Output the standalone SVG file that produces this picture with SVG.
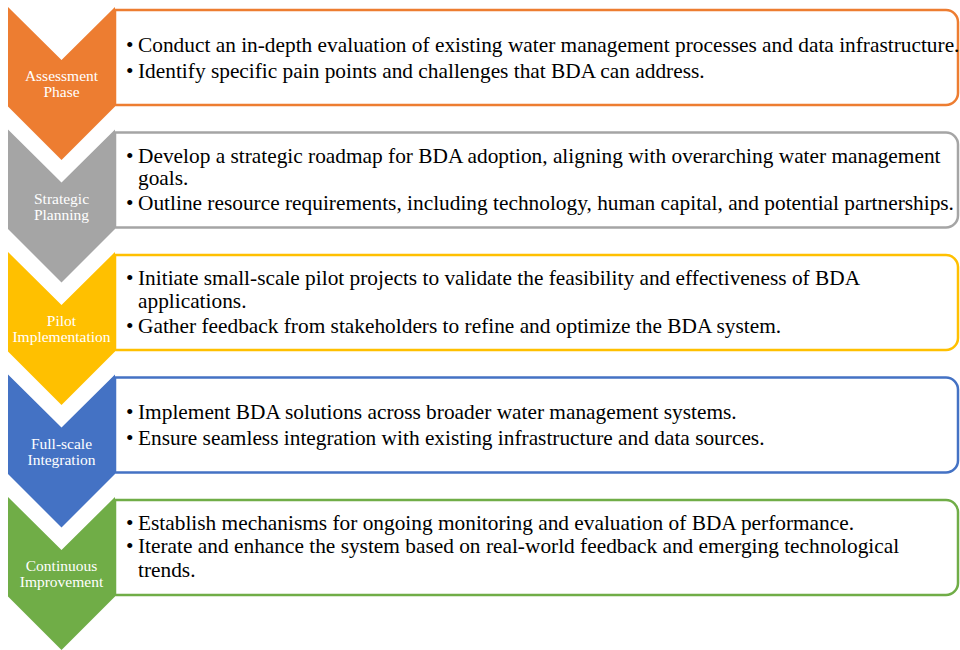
<svg xmlns="http://www.w3.org/2000/svg" width="960" height="650" viewBox="0 0 960 650">
  <style>
    .chev text { font-family: "Liberation Serif", "Times New Roman", serif; font-size: 15.5px; fill: #ffffff; text-anchor: middle; }
    .box path { fill: #ffffff; stroke-width: 2.5; }
    .box text { font-family: "Liberation Serif", "Times New Roman", serif; font-size: 21.35px; fill: #000000; }
  </style>
  <defs>
    <!-- down-pointing chevron with notched top, 107 wide -->
    <polygon id="chevron" points="8,0 61.5,53 115,0 115,99.5 61.5,153 8,99.5"/>
  </defs>

  <rect width="960" height="650" fill="#ffffff"/>

  <!-- Step 1 -->
  <g id="step1">
    <g class="box" transform="translate(0,10)">
      <path d="M115,0 H946 A12,12 0 0 1 958,12 V83 A12,12 0 0 1 946,95 H115 Z" stroke="#ED7D31"/>
    </g>
    <g class="chev" transform="translate(0,7)">
      <use href="#chevron" fill="#ED7D31"/>
      <text x="61.5" y="74">Assessment</text>
      <text x="61.5" y="90">Phase</text>
    </g>
    <g class="box">
      <text x="126" y="52">•</text><text x="138" y="52">Conduct an in-depth evaluation of existing water management processes and data infrastructure.</text>
      <text x="126" y="78">•</text><text x="138" y="78">Identify specific pain points and challenges that BDA can address.</text>
    </g>
  </g>

  <!-- Step 2 -->
  <g id="step2">
    <g class="box" transform="translate(0,132.5)">
      <path d="M115,0 H946 A12,12 0 0 1 958,12 V83 A12,12 0 0 1 946,95 H115 Z" stroke="#A5A5A5"/>
    </g>
    <g class="chev" transform="translate(0,129.5)">
      <use href="#chevron" fill="#A5A5A5"/>
      <text x="61.5" y="74">Strategic</text>
      <text x="61.5" y="90">Planning</text>
    </g>
    <g class="box">
      <text x="126" y="163">•</text><text x="138" y="163">Develop a strategic roadmap for BDA adoption, aligning with overarching water management</text>
      <text x="138" y="185">goals.</text>
      <text x="126" y="210">•</text><text x="138" y="210">Outline resource requirements, including technology, human capital, and potential partnerships.</text>
    </g>
  </g>

  <!-- Step 3 -->
  <g id="step3">
    <g class="box" transform="translate(0,255)">
      <path d="M115,0 H946 A12,12 0 0 1 958,12 V83 A12,12 0 0 1 946,95 H115 Z" stroke="#FFC000"/>
    </g>
    <g class="chev" transform="translate(0,252)">
      <use href="#chevron" fill="#FFC000"/>
      <text x="61.5" y="74">Pilot</text>
      <text x="61.5" y="90">Implementation</text>
    </g>
    <g class="box">
      <text x="126" y="285">•</text><text x="138" y="285">Initiate small-scale pilot projects to validate the feasibility and effectiveness of BDA</text>
      <text x="138" y="308">applications.</text>
      <text x="126" y="333">•</text><text x="138" y="333">Gather feedback from stakeholders to refine and optimize the BDA system.</text>
    </g>
  </g>

  <!-- Step 4 -->
  <g id="step4">
    <g class="box" transform="translate(0,377.5)">
      <path d="M115,0 H946 A12,12 0 0 1 958,12 V83 A12,12 0 0 1 946,95 H115 Z" stroke="#4472C4"/>
    </g>
    <g class="chev" transform="translate(0,374.5)">
      <use href="#chevron" fill="#4472C4"/>
      <text x="61.5" y="74">Full-scale</text>
      <text x="61.5" y="90">Integration</text>
    </g>
    <g class="box">
      <text x="126" y="419">•</text><text x="138" y="419">Implement BDA solutions across broader water management systems.</text>
      <text x="126" y="445">•</text><text x="138" y="445">Ensure seamless integration with existing infrastructure and data sources.</text>
    </g>
  </g>

  <!-- Step 5 -->
  <g id="step5">
    <g class="box" transform="translate(0,500)">
      <path d="M115,0 H946 A12,12 0 0 1 958,12 V83 A12,12 0 0 1 946,95 H115 Z" stroke="#70AD47"/>
    </g>
    <g class="chev" transform="translate(0,497)">
      <use href="#chevron" fill="#70AD47"/>
      <text x="61.5" y="74">Continuous</text>
      <text x="61.5" y="90">Improvement</text>
    </g>
    <g class="box">
      <text x="126" y="530">•</text><text x="138" y="530">Establish mechanisms for ongoing monitoring and evaluation of BDA performance.</text>
      <text x="126" y="553">•</text><text x="138" y="553">Iterate and enhance the system based on real-world feedback and emerging technological</text>
      <text x="138" y="577">trends.</text>
    </g>
  </g>

  <g id="connectors"/>
</svg>
